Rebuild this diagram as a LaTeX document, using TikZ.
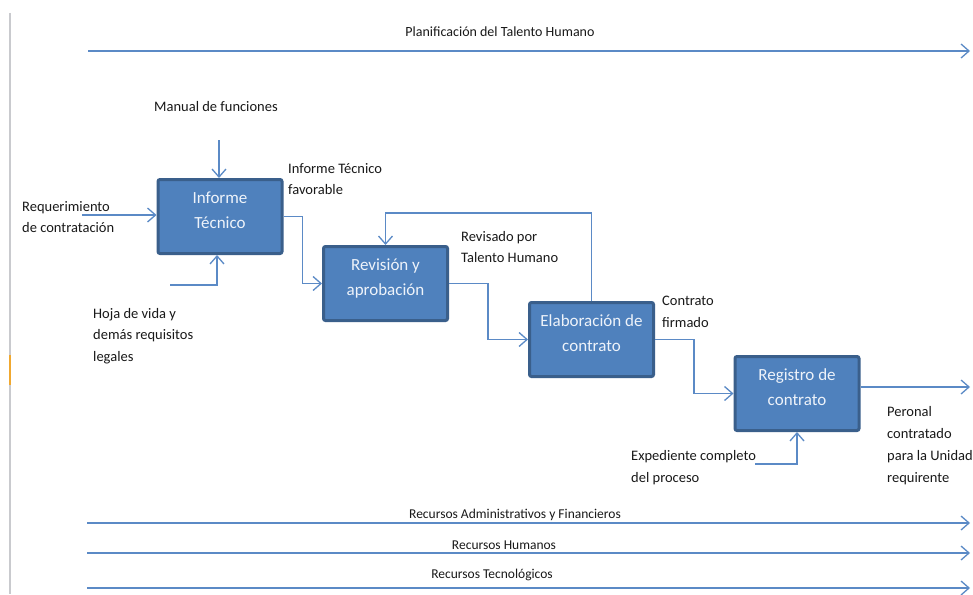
\documentclass[tikz,border=0pt]{standalone}
\usepackage{fontspec}
\setmainfont{Carlito}
\usetikzlibrary{arrows.meta}

\definecolor{flow}{HTML}{5B8AC6}
\definecolor{boxfill}{HTML}{4F81BD}
\definecolor{boxedge}{HTML}{3A5F8B}
\definecolor{boxtext}{HTML}{EEF3FA}
\definecolor{railgray}{HTML}{C9CACE}
\definecolor{railmark}{HTML}{F0A830}

\tikzset{
  stage/.style={draw=boxedge, line width=3pt, fill=boxfill, rounded corners=2pt,
    minimum width=124pt, minimum height=74pt, inner sep=0pt, text depth=13pt,
    text=boxtext, font=\fontsize{17}{25}\selectfont, align=center},
  flowline/.style={draw=flow, line width=1.4pt,
    -{Straight Barb[length=8pt,width=14pt,line width=1.3pt]}},
  lbl/.style={inner sep=0pt, font=\fontsize{14.5}{21.5}\selectfont, text=black!90, align=left},
  reslbl/.style={inner sep=0pt, font=\fontsize{13.5}{16}\selectfont, text=black!90}
}

\begin{document}
\begin{tikzpicture}[x=1pt, y=-1pt]
  \useasboundingbox (0,0) rectangle (973,594);
  \fill[white] (0,0) rectangle (973,594);

  % left margin rule
  \draw[railgray, line width=2pt] (10,13) -- (10,594);
  \draw[railmark, line width=2pt] (10,355) -- (10,385);

  % process stages
  \node[stage] (b1) at (220,216.5) {Informe\\Técnico};
  \node[stage] (b2) at (385.5,283.5) {Revisión y\\aprobación};
  \node[stage] (b3) at (591.5,339.5) {Elaboración de\\contrato};
  \node[stage] (b4) at (797,393.5) {Registro de\\contrato};

  % control / resource rails
  \coordinate (plA) at (88,51);   \coordinate (plB) at (970,51);
  \coordinate (raA) at (87,523);  \coordinate (raB) at (970,523);
  \coordinate (rhA) at (87,553);  \coordinate (rhB) at (970,553);
  \coordinate (rtA) at (87,588);  \coordinate (rtB) at (970,588);
  \draw[flowline] (plA) -- (plB);
  \draw[flowline] (raA) -- (raB);
  \draw[flowline] (rhA) -- (rhB);
  \draw[flowline] (rtA) -- (rtB);

  \node[reslbl, font=\fontsize{14}{16}\selectfont] (tpl) at (500,32) {Planificación del Talento Humano};
  \node[reslbl] (tra) at (515,515) {Recursos Administrativos y Financieros};
  \node[reslbl] (trh) at (504,545) {Recursos Humanos};
  \node[reslbl] (trt) at (492,575) {Recursos Tecnológicos};

  % inputs to Informe Técnico
  \coordinate (manual) at (219,140);
  \draw[flowline] (manual) -- (manual |- b1.north);
  \node[lbl] (tman) at (216,107) {Manual de funciones};

  \coordinate (req) at (82,215);
  \draw[flowline] (req) -- (req -| b1.west);
  \node[lbl, anchor=west] (treq) at (22,217) {Requerimiento\\de contratación};

  \coordinate (hoja) at (170,285);
  \draw[flowline] (hoja) -| (217,255);
  \node[lbl, anchor=north west] (thoja) at (93,308) {Hoja de vida y\\demás requisitos\\legales};

  % stage-to-stage flow
  \draw[flowline] (b1.east) -- ++(19,0) |- (b2.west);
  \node[lbl, anchor=north west] (tit) at (288,163) {Informe Técnico\\favorable};

  \draw[flowline] (b2.east) -- ++(39,0) |- (b3.west);
  \node[lbl, anchor=north west] (trev) at (461,231) {Revisado por\\Talento Humano};

  \draw[flowline] (b3.east) -- ++(39,0) |- (b4.west);
  \node[lbl, anchor=north west] (tcon) at (662,296) {Contrato\\firmado};

  % feedback from Elaboración to Revisión
  \coordinate (loop) at (0,213);
  \draw[flowline] (b3.north) -- (b3.north |- loop) -| (b2.north);

  % output and final input
  \coordinate (out) at (970,387);
  \draw[flowline] (b4.east |- out) -- (out);
  \node[lbl, anchor=north west, font=\fontsize{14.5}{22.2}\selectfont] (tout) at (887,406) {Peronal\\contratado\\para la Unidad\\requirente};

  \coordinate (exp) at (755,464);
  \draw[flowline] (exp) -| (b4.south);
  \node[lbl, anchor=north west, font=\fontsize{14.5}{22}\selectfont] (texp) at (631,450) {Expediente completo\\del proceso};
\end{tikzpicture}
\end{document}
